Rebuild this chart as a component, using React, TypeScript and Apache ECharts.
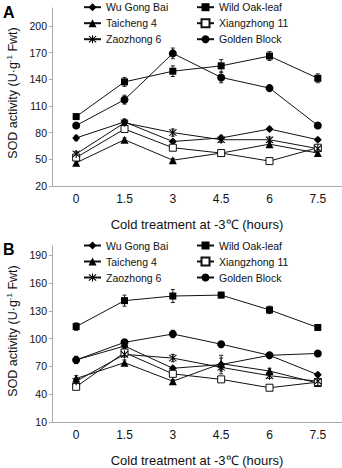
import React, { useEffect, useRef } from "react";
import * as echarts from "echarts";

const hours = ["0", "1.5", "3", "4.5", "6", "7.5"];
const cultivars = ["Wu Gong Bai", "Wild Oak-leaf", "Taicheng 4", "Xiangzhong 11", "Zaozhong 6", "Golden Block"];

// Panel A
const aWuGongBai = [74, 92, 70, 74, 84, 72];
const aWildOak = [98, 137, 149, 155, 166, 141];
const aTaicheng = [46, 72, 49, 57, 67, 57];
const aXiangzhong = [52, 84, 63, 57, 48, 63];
const aZaozhong = [56, 91, 80, 72, 72, 62];
const aGolden = [88, 117, 169, 142, 130, 88];
const aWuGongBaiErr = [3, 3, 2, 3, 2, 2];
const aWildOakErr = [2, 5, 6, 7, 5, 5];
const aTaichengErr = [2, 2, 2, 2, 3, 3];
const aXiangzhongErr = [2, 3, 2, 2, 2, 2];
const aZaozhongErr = [3, 4, 4, 3, 3, 3];
const aGoldenErr = [2, 5, 6, 6, 3, 2];

// Panel B
const bWuGongBai = [77, 92, 68, 72, 82, 61];
const bWildOak = [113, 141, 146, 147, 131, 112];
const bTaicheng = [57, 74, 54, 73, 65, 52];
const bXiangzhong = [48, 85, 62, 56, 47, 53];
const bZaozhong = [54, 83, 79, 69, 60, 54];
const bGolden = [77, 96, 105, 94, 82, 84];
const bWuGongBaiErr = [4, 3, 2, 10, 2, 2];
const bWildOakErr = [4, 6, 7, 3, 4, 3];
const bTaichengErr = [3, 3, 2, 6, 3, 2];
const bXiangzhongErr = [2, 2, 2, 2, 2, 2];
const bZaozhongErr = [3, 3, 4, 4, 3, 2];
const bGoldenErr = [3, 3, 4, 3, 2, 2];

const FONT = 'Arial, "Liberation Sans", Helvetica, sans-serif';
const STAR =
  "path://M4.4 0 L5.6 0 L5.6 10 L4.4 10 Z M0.6 1.45 L1.45 0.6 L9.4 8.55 L8.55 9.4 Z M8.55 0.6 L9.4 1.45 L1.45 9.4 L0.6 8.55 Z";

const symbols = [
  { symbol: "diamond", size: 8, fill: "#000" },
  { symbol: "rect", size: 7, fill: "#000" },
  { symbol: "triangle", size: 8, fill: "#000" },
  { symbol: "rect", size: 7, fill: "#fff" },
  { symbol: STAR, size: 8, fill: "#000" },
  { symbol: "circle", size: 8, fill: "#000" },
];

export default function App() {
  const ref = useRef<HTMLDivElement>(null);

  useEffect(() => {
    if (!ref.current) return;
    const chart = echarts.init(ref.current, null, { renderer: "svg" });

    const panels = [
      {
        values: [aWuGongBai, aWildOak, aTaicheng, aXiangzhong, aZaozhong, aGolden],
        errs: [aWuGongBaiErr, aWildOakErr, aTaichengErr, aXiangzhongErr, aZaozhongErr, aGoldenErr],
      },
      {
        values: [bWuGongBai, bWildOak, bTaicheng, bXiangzhong, bZaozhong, bGolden],
        errs: [bWuGongBaiErr, bWildOakErr, bTaichengErr, bXiangzhongErr, bZaozhongErr, bGoldenErr],
      },
    ];

    const series: any[] = [];
    panels.forEach((p, pi) => {
      p.values.forEach((vals, si) => {
        const s = symbols[si];
        series.push({
          type: "line",
          name: cultivars[si],
          xAxisIndex: pi,
          yAxisIndex: pi,
          data: vals,
          symbol: s.symbol,
          symbolSize: s.size,
          showAllSymbol: true,
          lineStyle: { color: "#111", width: 1 },
          itemStyle: { color: s.fill, borderColor: "#111", borderWidth: s.fill === "#fff" ? 1 : 0 },
          z: 3,
        });
      });
      const errData: number[][] = [];
      p.values.forEach((vals, si) => {
        vals.forEach((v, i) => {
          errData.push([i, v - p.errs[si][i], v + p.errs[si][i]]);
        });
      });
      series.push({
        type: "custom",
        name: "err" + pi,
        xAxisIndex: pi,
        yAxisIndex: pi,
        data: errData,
        encode: { x: 0, y: [1, 2] },
        z: 2,
        renderItem: (params: any, api: any) => {
          const x = api.value(0);
          const lo = api.coord([x, api.value(1)]);
          const hi = api.coord([x, api.value(2)]);
          const w = 2;
          const st = { stroke: "#222", lineWidth: 1 };
          return {
            type: "group",
            children: [
              { type: "line", shape: { x1: lo[0], y1: lo[1], x2: hi[0], y2: hi[1] }, style: st },
              { type: "line", shape: { x1: lo[0] - w, y1: lo[1], x2: lo[0] + w, y2: lo[1] }, style: st },
              { type: "line", shape: { x1: hi[0] - w, y1: hi[1], x2: hi[0] + w, y2: hi[1] }, style: st },
            ],
          };
        },
      });
    });

    const legendBase = {
      orient: "vertical",
      padding: 0,
      itemWidth: 17,
      itemHeight: 10,
      itemGap: 5,
      selectedMode: false,
      textStyle: { fontSize: 10.5, color: "#111", fontFamily: FONT, lineHeight: 10 },
    };

    const xAxisBase = (gi: number) => ({
      type: "category",
      gridIndex: gi,
      data: hours,
      boundaryGap: true,
      axisLine: { lineStyle: { color: "#aaa", width: 1 } },
      axisTick: { show: false },
      axisLabel: { fontSize: 12, color: "#111", margin: 7, fontFamily: FONT },
      name: "Cold treatment at -3\u2103 (hours)",
      nameLocation: "middle",
      nameGap: 32,
      nameTextStyle: { fontSize: 13, color: "#111", fontFamily: FONT },
    });

    const yAxisBase = (gi: number, min: number, max: number) => ({
      type: "value",
      gridIndex: gi,
      min,
      max,
      interval: 30,
      axisLine: { show: true, lineStyle: { color: "#aaa", width: 1 } },
      axisTick: { show: true, length: 3, lineStyle: { color: "#aaa" } },
      splitLine: { show: false },
      axisLabel: { fontSize: 10.5, color: "#111", margin: 5, fontFamily: FONT, showMaxLabel: false },
    });

    const ytitle = (y: number) => ({
      type: "text",
      x: 13,
      y,
      rotation: Math.PI / 2,
      style: {
        text: "{a|SOD activity (U\u00b7g}{s|-1}{a| Fwt)}",
        align: "center",
        verticalAlign: "middle",
        fill: "#111",
        rich: {
          a: { fontSize: 12.5, fontFamily: FONT, fill: "#111", lineHeight: 15 },
          s: { fontSize: 8, fontFamily: FONT, fill: "#111", lineHeight: 15, verticalAlign: "top", padding: [0, 0, 6, 0] },
        },
      },
    });

    chart.setOption({
      animation: false,
      backgroundColor: "#fff",
      textStyle: { fontFamily: FONT },
      grid: [
        { left: 52, right: 0, top: 8, bottom: 282 },
        { left: 52, right: 0, top: 246, bottom: 45 },
      ],
      xAxis: [xAxisBase(0), xAxisBase(1)],
      yAxis: [yAxisBase(0, 20, 220), yAxisBase(1, 10, 200)],
      legend: [
        { ...legendBase, left: 83, top: 1.7, data: ["Wu Gong Bai", "Taicheng 4", "Zaozhong 6"] },
        { ...legendBase, left: 196, top: 1.7, data: ["Wild Oak-leaf", "Xiangzhong 11", "Golden Block"] },
        { ...legendBase, left: 83, top: 240, data: ["Wu Gong Bai", "Taicheng 4", "Zaozhong 6"] },
        { ...legendBase, left: 196, top: 240, data: ["Wild Oak-leaf", "Xiangzhong 11", "Golden Block"] },
      ],
      graphic: [
        { type: "text", left: 3, top: 4, style: { text: "A", fontSize: 16, fontWeight: "bold", fill: "#000", fontFamily: FONT } },
        { type: "text", left: 3, top: 241, style: { text: "B", fontSize: 16, fontWeight: "bold", fill: "#000", fontFamily: FONT } },
        ytitle(93),
        ytitle(331),
      ],
      series,
    });

    return () => chart.dispose();
  }, []);

  return <div ref={ref} style={{ position: "fixed", left: 0, top: 0, width: 342, height: 468 }} />;
}
